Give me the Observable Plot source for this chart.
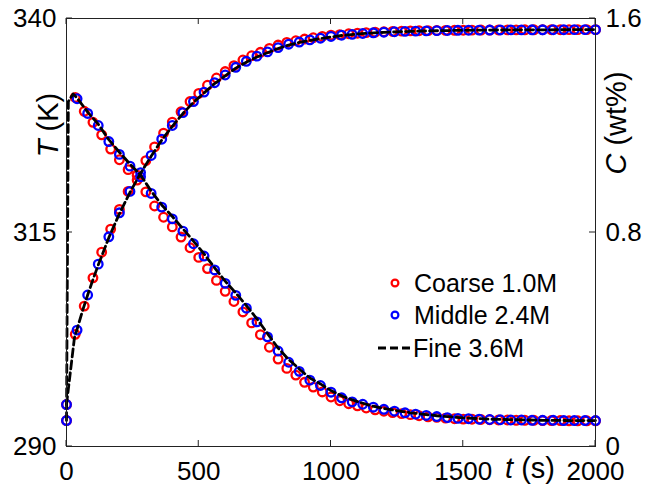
<!DOCTYPE html>
<html><head><meta charset="utf-8">
<script src="https://cdn.jsdelivr.net/npm/d3@7"></script>
<script src="https://cdn.jsdelivr.net/npm/@observablehq/plot@0.6"></script>
<style>body{margin:0;background:#fff} svg{display:block}</style>
</head><body><div id="chart"></div>
<script>
// ---- tick labels / axes ----
const xTicks = [0, 500, 1000, 1500, 2000];
const tTicks = [290, 315, 340];
const cTicks = [0, 0.8, 1.6];
const tDomain = [290, 340];
const cDomain = [0, 1.6];

// ---- series: Coarse 1.0M (red) ----
const redTime = [0,33,67,100,133,167,200,233,267,300,333,367,400,433,467,500,533,567,600,633,667,700,733,767,800,833,867,900,933,967,1000,1033,1067,1100,1133,1167,1200,1233,1267,1300,1333,1367,1400,1433,1467,1500,1533,1567,1600,1633,1667,1700,1733,1767,1800,1833,1867,1900,1933,1967,2000];
const redT = [294.9,303.1,306.4,309.7,312.7,315.4,317.7,319.8,321.7,323.4,325.0,326.6,327.9,329.1,330.3,331.25,332.2,333.05,333.8,334.5,335.15,335.65,336.05,336.5,336.9,337.2,337.4,337.6,337.75,337.9,338.05,338.12,338.22,338.28,338.35,338.4,338.45,338.49,338.52,338.55,338.57,338.58,338.6,338.61,338.62,338.63,338.64,338.65,338.65,338.66,338.67,338.67,338.68,338.68,338.69,338.69,338.69,338.7,338.7,338.7,338.7];
const redC = [0.097,1.305,1.253,1.212,1.165,1.112,1.072,1.035,0.996,0.952,0.899,0.857,0.821,0.783,0.743,0.707,0.665,0.621,0.580,0.542,0.503,0.462,0.418,0.371,0.327,0.292,0.267,0.240,0.222,0.204,0.185,0.171,0.160,0.152,0.144,0.137,0.132,0.127,0.123,0.119,0.115,0.111,0.109,0.106,0.104,0.1025,0.102,0.101,0.100,0.099,0.099,0.098,0.098,0.098,0.097,0.097,0.097,0.096,0.096,0.096,0.096];

// ---- series: Middle 2.4M (blue) ----
const blueTime = [0,40,80,120,160,200,240,280,320,360,400,440,480,520,560,600,640,680,720,760,800,840,880,920,960,1000,1040,1080,1120,1160,1200,1240,1280,1320,1360,1400,1440,1480,1520,1560,1600,1640,1680,1720,1760,1800,1840,1880,1920,1960,2000];
const blueT = [294.9,303.6,307.7,311.3,314.5,317.3,319.8,322.0,324.0,325.9,327.5,329.0,330.3,331.4,332.5,333.4,334.3,335.0,335.6,336.1,336.6,337.0,337.25,337.5,337.7,337.9,338.05,338.15,338.25,338.33,338.4,338.45,338.5,338.53,338.56,338.58,338.6,338.62,338.63,338.64,338.65,338.66,338.67,338.67,338.68,338.68,338.69,338.69,338.7,338.7,338.7];
const blueC = [0.097,1.300,1.245,1.200,1.140,1.092,1.048,1.008,0.946,0.895,0.851,0.805,0.758,0.712,0.660,0.610,0.565,0.517,0.466,0.410,0.357,0.315,0.281,0.248,0.228,0.203,0.182,0.167,0.158,0.147,0.139,0.132,0.126,0.121,0.116,0.112,0.108,0.105,0.104,0.102,0.101,0.100,0.099,0.099,0.098,0.098,0.098,0.097,0.097,0.097,0.097];

// ---- series: Fine 3.6M (black dashed) ----
const fineTTime = [0,30,40,60,80,100,120,160,200,240,280,320,360,400,440,480,520,560,600,640,680,720,760,800,840,880,920,960,1000,1050,1100,1150,1200,1300,1400,1500,1600,1700,1800,1900,2000];
const fineT = [294.9,302.7,303.7,305.8,307.7,309.5,311.2,314.4,317.2,319.7,321.9,323.9,325.8,327.4,328.9,330.2,331.3,332.4,333.3,334.2,334.9,335.5,336.0,336.5,336.9,337.2,337.45,337.65,337.85,338.05,338.2,338.3,338.38,338.5,338.57,338.62,338.65,338.67,338.68,338.69,338.7];
const fineCTime = [0,7,25,40,80,120,160,200,240,280,320,360,400,440,480,520,560,600,640,680,720,760,800,840,880,920,960,1000,1050,1100,1150,1200,1300,1400,1500,1600,1700,1800,1900,2000];
const fineC = [0.097,1.29,1.318,1.303,1.25,1.205,1.147,1.1,1.056,1.015,0.955,0.903,0.86,0.814,0.768,0.72,0.668,0.618,0.574,0.527,0.477,0.422,0.368,0.325,0.29,0.256,0.234,0.209,0.185,0.168,0.153,0.142,0.126,0.115,0.107,0.102,0.1,0.098,0.097,0.097];

const legendLabels = ["Coarse 1.0M", "Middle 2.4M", "Fine 3.6M"];
const colors = {coarse: "#ff0000", middle: "#0000ff", fine: "#000000"};

// map C (right axis) onto the T scale
const cToY = c => tDomain[0] + (c - cDomain[0]) * (tDomain[1] - tDomain[0]) / (cDomain[1] - cDomain[0]);
const yToC = y => cDomain[0] + (y - tDomain[0]) * (cDomain[1] - cDomain[0]) / (tDomain[1] - tDomain[0]);

const redPts = [], bluePts = [];
redTime.forEach((t, i) => { redPts.push({t, y: redT[i]}); redPts.push({t, y: cToY(redC[i])}); });
blueTime.forEach((t, i) => { bluePts.push({t, y: blueT[i]}); bluePts.push({t, y: cToY(blueC[i])}); });
const fineTPts = fineTTime.map((t, i) => ({t, y: fineT[i]}));
const fineCPts = fineCTime.map((t, i) => ({t, y: cToY(fineC[i])}));

const FONT = "'Liberation Sans', Arial, Helvetica, sans-serif";

const svg = Plot.plot({
  width: 645, height: 487,
  marginLeft: 66, marginRight: 50, marginTop: 18, marginBottom: 41,
  style: {fontFamily: FONT, fontSize: "26px", color: "#000", background: "#fff"},
  x: {domain: [0, 2000]},
  y: {domain: tDomain},
  marks: [
    Plot.dot(redPts, {x: "t", y: "y", r: 4.3, stroke: colors.coarse, strokeWidth: 2.3, fill: "none"}),
    Plot.dot(bluePts, {x: "t", y: "y", r: 4.3, stroke: colors.middle, strokeWidth: 2.3, fill: "none"}),
    Plot.line(fineTPts, {x: "t", y: "y", stroke: colors.fine, strokeWidth: 2.8, strokeDasharray: "8,4"}),
    Plot.line(fineCPts, {x: "t", y: "y", stroke: colors.fine, strokeWidth: 2.8, strokeDasharray: "8,4"}),
    Plot.frame({stroke: "#222", strokeWidth: 1}),
    Plot.axisX(xTicks, {anchor: "bottom", tickSize: 0, tickPadding: 15, label: null, tickFormat: d3.format("d")}),
    Plot.axisY(tTicks, {anchor: "left", tickSize: 0, tickPadding: 10, label: null, tickFormat: d3.format("d")}),
    Plot.axisY(cTicks.map(cToY), {anchor: "right", tickSize: 0, tickPadding: 10, label: null, tickFormat: d => String(+yToC(d).toFixed(1))})
  ]
});
document.getElementById("chart").appendChild(svg);

const s = d3.select(svg);
const xs = svg.scale("x"), ys = svg.scale("y");
const [xL, xR] = xs.range, [yB, yT] = ys.range;
const TK = 6;
// inward ticks on all four sides (positions from the plot's scales)
const tg = s.append("g").attr("stroke", "#222").attr("stroke-width", 1);
xTicks.forEach(v => {
  const px = xs.apply(v);
  tg.append("line").attr("x1", px).attr("x2", px).attr("y1", yB).attr("y2", yB - TK);
  tg.append("line").attr("x1", px).attr("x2", px).attr("y1", yT).attr("y2", yT + TK);
});
tTicks.forEach(v => {
  const py = ys.apply(v);
  tg.append("line").attr("x1", xL).attr("x2", xL + TK).attr("y1", py).attr("y2", py);
});
cTicks.forEach(v => {
  const py = ys.apply(cToY(v));
  tg.append("line").attr("x1", xR).attr("x2", xR - TK).attr("y1", py).attr("y2", py);
});

// axis titles and legend
const g = s.append("g").attr("font-family", FONT).attr("fill", "#000");
function label(x, y, rot, italic, rest) {
  const t = g.append("text").attr("transform", `translate(${x},${y}) rotate(${rot})`)
    .attr("text-anchor", "middle").attr("font-size", 29);
  t.append("tspan").attr("font-style", "italic").text(italic);
  t.append("tspan").text(rest);
}
label(58, 125, -90, "T", " (K)");
label(626, 123, -90, "C", " (wt%)");
label(530, 478, 0, "t", " (s)");

const lg = g.append("g").attr("font-size", 25).attr("text-anchor", "start");
const rowsY = [283, 315, 348];
lg.append("circle").attr("cx", 395).attr("cy", rowsY[0]).attr("r", 3.4).attr("fill", "none").attr("stroke", colors.coarse).attr("stroke-width", 2.2);
lg.append("circle").attr("cx", 395).attr("cy", rowsY[1]).attr("r", 3.4).attr("fill", "none").attr("stroke", colors.middle).attr("stroke-width", 2.2);
lg.append("line").attr("x1", 378).attr("x2", 412).attr("y1", rowsY[2]).attr("y2", rowsY[2]).attr("stroke", colors.fine).attr("stroke-width", 2.8).attr("stroke-dasharray", "8,4");
legendLabels.forEach((l, i) => {
  lg.append("text").attr("x", i === 2 ? 413 : 414).attr("y", rowsY[i] + 9).attr("text-anchor", "start").text(l);
});
</script>
</body></html>
